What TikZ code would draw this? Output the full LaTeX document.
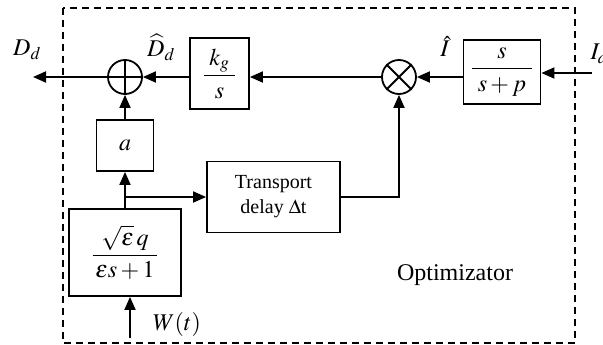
\documentclass[tikz,border=0pt]{standalone}
\usepackage{amsmath}
\usepackage{mathptmx}
\usepackage{fontspec}
\setmainfont{Liberation Serif}
\usetikzlibrary{arrows.meta,positioning,calc}

\tikzset{
    blk/.style={draw=black, line width=1.8pt, inner sep=0pt},
    junc/.style={circle, draw=black, line width=1.8pt, minimum size=34pt, inner sep=0pt},
    lbl/.style={font=\fontsize{24}{28}\selectfont},
    wire/.style={line width=1.8pt, -{Triangle[length=13pt,width=11pt]}}
}

\begin{document}
\begin{tikzpicture}[x=1pt,y=-1pt]

    \useasboundingbox (0,0) rectangle (603,345);

    % optimizator frame
    \draw[line width=1.4pt, dash pattern=on 7pt off 5pt] (63,8) rectangle (575,343);

    % blocks
    \node[blk, minimum width=77pt, minimum height=64pt, lbl] (hpf) at (502,72) {$\dfrac{\;s\;}{\;s+p\;}$};
    \node[blk, minimum width=59pt, minimum height=71pt, lbl] (intg) at (219.5,73.5) {$\dfrac{\;k_g\;}{s}$};
    \node[blk, minimum width=57pt, minimum height=51pt, lbl] (gain) at (125,145.5) {$a$};
    \node[blk, minimum width=133pt, minimum height=71pt, align=center,
          font=\fontsize{20}{25}\selectfont] (dly) at (273.5,197) {Transport\\delay $\Delta$t};
    \node[blk, minimum width=112pt, minimum height=87pt, lbl] (filt) at (125,252.5)
          {$\dfrac{\sqrt{\varepsilon}\,q}{\,\varepsilon s+1\,}$};

    % junctions
    \node[junc] (sum) at (125,77) {};
    \draw[line width=1.8pt] (sum.north) -- (sum.south) (sum.west) -- (sum.east);
    \node[junc] (mul) at (399,77) {};
    \draw[line width=1.8pt] (mul.north west) -- (mul.south east) (mul.north east) -- (mul.south west);

    % free ends
    \coordinate (Iin) at (592,73);
    \coordinate (Dout) at (33,77);
    \coordinate (Win) at (130,338);

    % signal lines
    \draw[wire] (Iin) -- (Iin -| hpf.east);
    \draw[wire] (hpf.west |- mul) -- (mul.east);
    \draw[wire] (mul.west) -- (intg.east |- mul);
    \draw[wire] (intg.west |- sum) -- (sum.east);
    \draw[wire] (sum.west) -- (Dout);
    \draw[wire] (gain.north) -- (sum.south);
    \draw[wire] (filt.north) -- (gain.south);
    \draw[wire] (filt.north |- dly.west) -- (dly.west);
    \draw[wire] (dly.east) -| (mul.south);
    \draw[wire] (Win) -- (Win |- filt.south);

    % labels
    \node[lbl, anchor=base] (lDd) at (27,56) {$D_d$};
    \node[lbl, anchor=base] (lDh) at (161,57) {$\widehat{D}_d$};
    \node[lbl, anchor=base] (lIh) at (445,57) {$\hat{I}$};
    \node[lbl, anchor=base west] (lId) at (587,60) {$I_d$};
    \node[lbl, anchor=base] (lW) at (177,330) {$W(t)$};
    \node[lbl, anchor=base] (lopt) at (455,280) {Optimizator};

\end{tikzpicture}
\end{document}
